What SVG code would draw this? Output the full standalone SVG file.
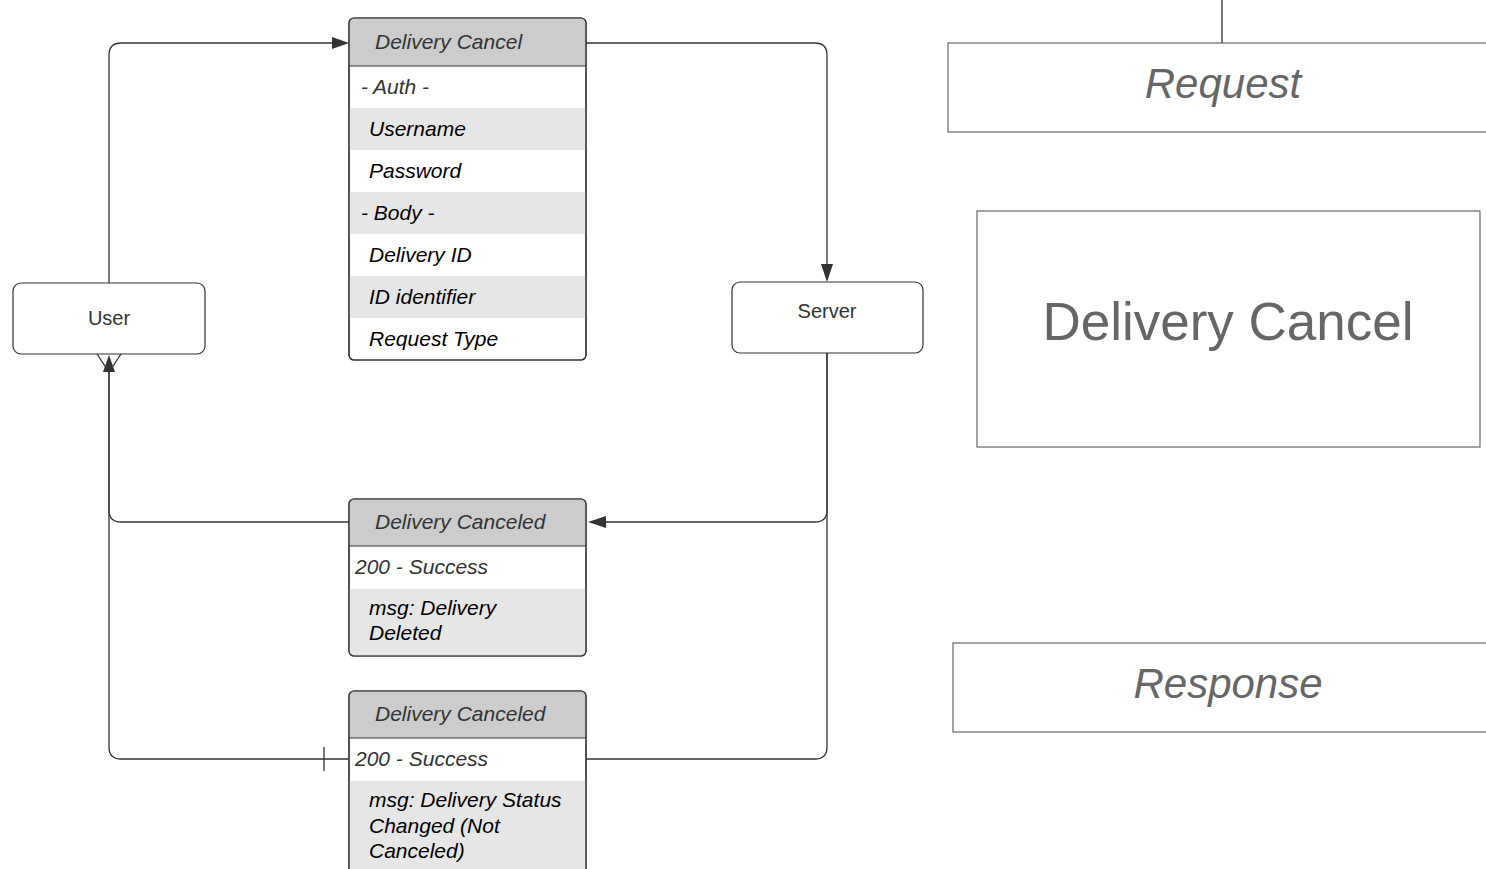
<svg xmlns="http://www.w3.org/2000/svg" width="1486" height="869" viewBox="0 0 1486 869">
<style>
.box{fill:#fff;stroke:#333;stroke-width:1.2}
.hdr{fill:#ccc}
.alt{fill:#e6e6e6}
.sep{stroke:#333;stroke-width:1.2}
.t{font-family:"Liberation Sans",Arial,sans-serif;font-size:21px;font-style:italic;fill:#000}
.th{font-family:"Liberation Sans",Arial,sans-serif;font-size:21px;font-style:italic;fill:#333}
.n{font-family:"Liberation Sans",Arial,sans-serif;font-size:20px;fill:#333;text-anchor:middle}
.big{font-family:"Liberation Sans",Arial,sans-serif;fill:#666;text-anchor:middle}
.frame{fill:#fff;stroke:#666;stroke-width:1.2}
.ln{fill:none;stroke:#333;stroke-width:1.3}
.ah{fill:#333}
</style>
<g id="connectors">
<path class="ln" d="M109,283 V55 Q109,43 121,43 H334"/>
<polygon class="ah" points="349,43 332,37 332,49"/>
<path class="ln" d="M586,43 H815 Q827,43 827,55 V266"/>
<polygon class="ah" points="827,282 821,264 833,264"/>
<path class="ln" d="M827,353 V510 Q827,522 815,522 H604"/>
<polygon class="ah" points="588,522 606,516 606,528"/>
<path class="ln" d="M827,353 V747 Q827,759 815,759 H586"/>
<path class="ln" d="M349,522 H121 Q109,522 109,510 V370"/>
<polygon class="ah" points="109,355 103,372 115,372"/>
<path class="ln" d="M349,759 H121 Q109,759 109,747 V370"/>
<path class="ln" d="M97,354 L109,372 L121,354"/>
<path class="ln" d="M324,747 V771"/>
<path class="ln" d="M1222,0 V43"/>
</g>
<g id="delivery-cancel-table">
<rect class="box" x="349" y="18" width="237" height="342" rx="5"/>
<path class="hdr" d="M354,18.6 H581 Q585.4,18.6 585.4,23 V66 H349.6 V23 Q349.6,18.6 354,18.6 Z"/>
<rect class="alt" x="349.6" y="108" width="235.8" height="42"/>
<rect class="alt" x="349.6" y="192" width="235.8" height="42"/>
<rect class="alt" x="349.6" y="276" width="235.8" height="42"/>
<line class="sep" x1="349" y1="66" x2="586" y2="66"/>
<rect x="349" y="18" width="237" height="342" rx="5" fill="none" stroke="#333" stroke-width="1.2"/>
<text class="th" x="375" y="49">Delivery Cancel</text>
<text class="th" x="361" y="94">- Auth -</text>
<text class="t" x="369" y="136">Username</text>
<text class="t" x="369" y="178">Password</text>
<text class="t" x="361" y="220">- Body -</text>
<text class="t" x="369" y="262">Delivery ID</text>
<text class="t" x="369" y="304">ID identifier</text>
<text class="t" x="369" y="346">Request Type</text>
</g>
<g id="user">
<rect class="box" x="13" y="283" width="192" height="71" rx="8"/>
<text class="n" x="109" y="325">User</text>
</g>
<g id="server">
<rect class="box" x="732" y="282" width="191" height="71" rx="8"/>
<text class="n" x="827" y="318">Server</text>
</g>
<g id="delivery-canceled-1">
<rect class="box" x="349" y="499" width="237" height="157" rx="5"/>
<path class="hdr" d="M354,499.6 H581 Q585.4,499.6 585.4,504 V546 H349.6 V504 Q349.6,499.6 354,499.6 Z"/>
<path class="alt" d="M349.6,589 H585.4 V651 Q585.4,655.4 581,655.4 H354 Q349.6,655.4 349.6,651 Z"/>
<line class="sep" x1="349" y1="546" x2="586" y2="546"/>
<rect x="349" y="499" width="237" height="157" rx="5" fill="none" stroke="#333" stroke-width="1.2"/>
<text class="th" x="375" y="529">Delivery Canceled</text>
<text class="th" x="355" y="574">200 - Success</text>
<text class="t" x="369" y="615">msg: Delivery</text>
<text class="t" x="369" y="640">Deleted</text>
</g>
<g id="delivery-canceled-2">
<rect class="box" x="349" y="691" width="237" height="200" rx="5"/>
<path class="hdr" d="M354,691.6 H581 Q585.4,691.6 585.4,696 V738 H349.6 V696 Q349.6,691.6 354,691.6 Z"/>
<rect class="alt" x="349.6" y="781" width="235.8" height="100"/>
<line class="sep" x1="349" y1="738" x2="586" y2="738"/>
<rect x="349" y="691" width="237" height="200" rx="5" fill="none" stroke="#333" stroke-width="1.2"/>
<text class="th" x="375" y="721">Delivery Canceled</text>
<text class="th" x="355" y="766">200 - Success</text>
<text class="t" x="369" y="807">msg: Delivery Status</text>
<text class="t" x="369" y="833">Changed (Not</text>
<text class="t" x="369" y="858">Canceled)</text>
</g>
<g id="request-label">
<rect class="frame" x="948" y="43" width="560" height="89"/>
<text class="big" x="1223" y="98" font-size="42" font-style="italic">Request</text>
</g>
<g id="title">
<rect class="frame" x="977" y="211" width="503" height="236"/>
<text class="big" x="1228" y="340" font-size="53">Delivery Cancel</text>
</g>
<g id="response-label">
<rect class="frame" x="953" y="643" width="560" height="89"/>
<text class="big" x="1228" y="698" font-size="42" font-style="italic">Response</text>
</g>
</svg>
